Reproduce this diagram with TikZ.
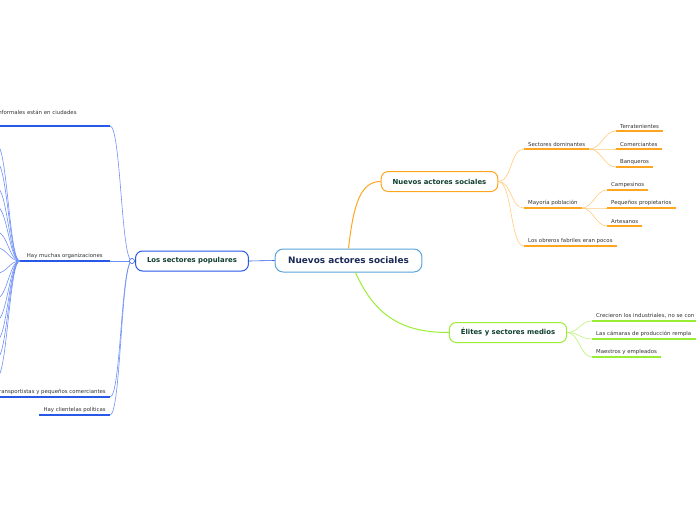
\documentclass[tikz,border=0pt]{standalone}
\usepackage{fontspec}
\setmainfont{DejaVu Sans}
\usetikzlibrary{positioning}

\definecolor{rootline}{HTML}{5AA3DA}
\definecolor{rootText}{HTML}{1C2A56}
\definecolor{topicText}{HTML}{0E3E2E}
\definecolor{leafText}{HTML}{333333}
\definecolor{bluemain}{HTML}{2758E8}
\definecolor{bluesoft}{HTML}{6E90F6}
\definecolor{orangemain}{HTML}{FFA51F}
\definecolor{orangesoft}{HTML}{FFCB7A}
\definecolor{greenmain}{HTML}{99EE33}
\definecolor{greensoft}{HTML}{BDF27A}

\begin{document}
\begin{tikzpicture}[x=1pt, y=-1pt,
    mainnode/.style={draw=rootline, rounded corners=8pt, line width=1pt, fill=white,
        font=\fontsize{8.9}{10}\selectfont\bfseries, text=rootText,
        minimum height=23pt, inner xsep=13pt},
    topic/.style={draw, rounded corners=7pt, line width=1pt, fill=white,
        font=\fontsize{6.9}{8}\selectfont\bfseries, text=topicText,
        minimum height=20pt, inner xsep=11.5pt},
    leaf/.style={font=\fontsize{5.4}{6.5}\selectfont, text=leafText, inner xsep=4pt, inner ysep=2.5pt},
    bluecurve/.style={bluesoft, line width=0.6pt},
    orangecurve/.style={orangesoft, line width=0.6pt},
    greencurve/.style={greensoft, line width=0.6pt}
]
    \path[use as bounding box] (0,0) rectangle (696,520);
    \clip (0,0) rectangle (696,520);

    \node[mainnode] (root) at (348.5,260.5) {Nuevos actores sociales};
    \node[topic, draw=bluemain] (pop) at (192,261) {Los sectores populares};
    \node[topic, draw=orangemain] (nuevos) at (439.5,181.5) {Nuevos actores sociales};
    \node[topic, draw=greenmain] (elites) at (508,332.5) {Élites y sectores medios};

    \draw[bluemain, line width=0.6pt] (root.west) -- (pop.east);
    \draw[orangemain, line width=1pt] (root.north) .. controls +(5,-45) and +(-20,0) .. (nuevos.west);
    \draw[greenmain, line width=1pt] (root.south) ++(7,0) coordinate (rs)
        (rs) .. controls +(20,45) and +(-45,0) .. (elites.west);

    % orange side
    \node[leaf, anchor=south west] (sd) at (524,149) {Sectores dominantes};
    \node[leaf, anchor=south west] (may) at (524,208) {Mayoría población};
    \node[leaf, anchor=south west] (obr) at (524,246) {Los obreros fabriles eran pocos};
    \node[leaf, anchor=south west] (terr) at (616,131) {Terratenientes};
    \node[leaf, anchor=south west] (com) at (616,149) {Comerciantes};
    \node[leaf, anchor=south west] (banq) at (616,167) {Banqueros};
    \node[leaf, anchor=south west] (camp) at (607,190) {Campesinos};
    \node[leaf, anchor=south west] (peq) at (607,208) {Pequeños propietarios};
    \node[leaf, anchor=south west] (art) at (607,226) {Artesanos};

    \foreach \n in {sd,may,obr,terr,com,banq,camp,peq,art}
        \draw[orangemain, line width=1.5pt] (\n.south west) -- (\n.south east);
    \foreach \n in {sd,may,obr}
        \draw[orangecurve] (nuevos.east) .. controls +(14,0) and +(-14,0) .. (\n.south west);
    \foreach \n in {terr,com,banq}
        \draw[orangecurve] (sd.south east) .. controls +(12,0) and +(-12,0) .. (\n.south west);
    \foreach \n in {camp,peq,art}
        \draw[orangecurve] (may.south east) .. controls +(11,0) and +(-11,0) .. (\n.south west);

    % green side
    \node[leaf, anchor=south west, text width=110pt, align=left] (crec) at (592,321) {Crecieron los industriales, no se con};
    \node[leaf, anchor=south west, text width=110pt, align=left] (cam) at (592,339) {Las cámaras de producción rempla};
    \node[leaf, anchor=south west] (maes) at (592,357) {Maestros y empleados};

    \foreach \n in {crec,cam,maes} {
        \draw[greenmain, line width=1.5pt] (\n.south west) -- (\n.south east);
        \draw[greencurve] (elites.east) .. controls +(12,0) and +(-12,0) .. (\n.south west);
    }

    % blue side
    \coordinate (popknot) at (132,261);
    \node[leaf, anchor=south east, text width=113pt, align=left, inner xsep=0pt, minimum height=26pt] (inf) at (110,126) {informales están en ciudades};
    \node[leaf, anchor=south east, minimum width=90pt] (org) at (110,261) {Hay muchas organizaciones};
    \node[leaf, anchor=south east, align=right] (trans) at (110,397) {Transportistas y pequeños comerciantes};
    \node[leaf, anchor=south east] (cli) at (110,415) {Hay clientelas políticas};

    \draw[bluemain, line width=0.6pt] (pop.west) -- (popknot);
    \foreach \n in {inf,org,trans,cli} {
        \draw[bluemain, line width=1.5pt] (\n.south west) -- (\n.south east);
        \draw[bluecurve] (popknot) .. controls +(-11,0) and +(11,0) .. (\n.south east);
    }
    \draw[bluemain, fill=white, line width=0.6pt] (popknot) circle (2.5pt);

    \foreach \yy [count=\i] in {145,163,188,207,232,248,273,298,320,340,358,377} {
        \coordinate (sub\i) at (-3,\yy);
        \draw[bluecurve] (org.south west) .. controls +(-10,0) and +(10,0) .. (sub\i);
    }
\end{tikzpicture}
\end{document}
